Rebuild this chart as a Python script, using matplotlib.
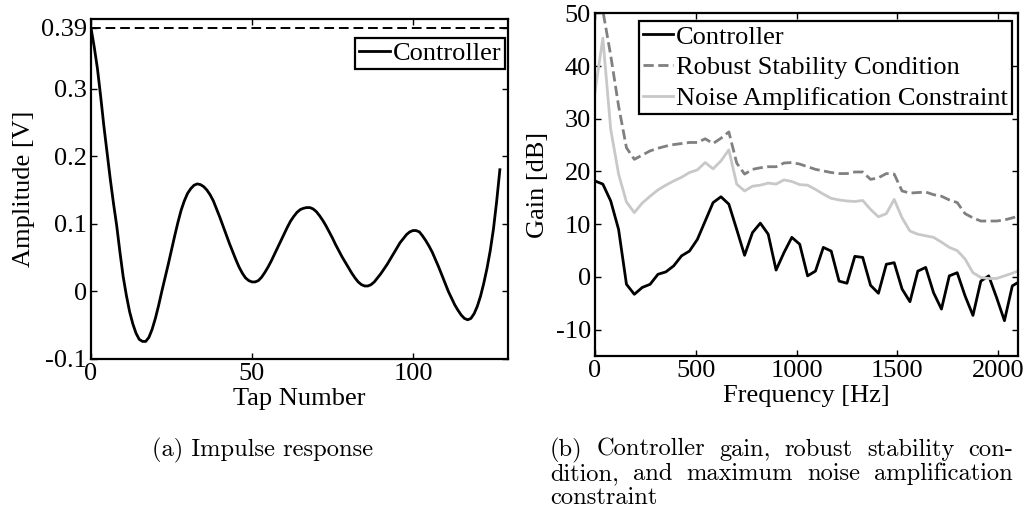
import numpy as np
import matplotlib

matplotlib.use("Agg")
import matplotlib.pyplot as plt

SERIF = "Liberation Serif"
CAPTION_FONT = "cmr10"
FS = 19
CAP_FS = 17.6
DASH_GRAY = "#808080"
LIGHT_GRAY = "#c8c8c8"
W, H = 1029, 523

# impulse response of the 128-tap FIR controller
taps = np.arange(128)
amplitude = [
    0.390, 0.362, 0.330, 0.289, 0.245, 0.205, 0.166, 0.130, 0.097, 0.058,
    0.022, -0.006, -0.030, -0.048, -0.062, -0.071, -0.074, -0.074, -0.068, -0.056,
    -0.040, -0.021, 0.000, 0.020, 0.040, 0.061, 0.082, 0.102, 0.120, 0.134,
    0.145, 0.152, 0.157, 0.159, 0.158, 0.155, 0.150, 0.143, 0.134, 0.122,
    0.110, 0.097, 0.084, 0.071, 0.059, 0.047, 0.036, 0.027, 0.020, 0.016,
    0.014, 0.014, 0.016, 0.021, 0.028, 0.036, 0.045, 0.055, 0.065, 0.075,
    0.085, 0.095, 0.104, 0.111, 0.117, 0.121, 0.123, 0.124, 0.124, 0.122,
    0.118, 0.112, 0.105, 0.097, 0.088, 0.079, 0.069, 0.060, 0.051, 0.043,
    0.035, 0.027, 0.020, 0.014, 0.010, 0.008, 0.008, 0.010, 0.014, 0.020,
    0.026, 0.033, 0.040, 0.048, 0.056, 0.064, 0.072, 0.078, 0.084, 0.088,
    0.090, 0.090, 0.088, 0.082, 0.075, 0.067, 0.058, 0.047, 0.036, 0.024,
    0.012, 0.000, -0.010, -0.020, -0.028, -0.035, -0.040, -0.042, -0.040, -0.033,
    -0.022, -0.007, 0.012, 0.034, 0.060, 0.092, 0.133, 0.180,
]
amp_limit = 0.39

# frequency-domain curves on the 39.0625 Hz FFT grid
freq_step = 39.0625
controller_db = [
    18.2, 17.6, 14.4, 9.0, -1.4, -3.3, -2.0, -1.4, 0.5, 0.95,
    2.1, 4.0, 4.9, 7.1, 10.6, 14.1, 15.2, 13.8, 9.0, 4.1,
    8.4, 10.2, 8.1, 1.3, 4.6, 7.5, 6.2, 0.2, 1.1, 5.6,
    4.9, -0.8, -1.2, 3.9, 3.7, -1.6, -3.1, 2.4, 2.7, -2.3,
    -4.7, 1.1, 1.8, -3.0, -6.1, 0.2, 0.8, -3.6, -7.3, -0.8,
    0.2, -3.9, -8.3, -1.7, -0.8,
]
robust_db = [
    56.0, 50.5, 42.0, 32.4, 24.5, 22.3, 23.1, 23.9, 24.4, 24.8,
    25.1, 25.3, 25.5, 25.5, 26.2, 25.3, 26.3, 27.5, 21.6, 19.5,
    20.4, 20.7, 20.9, 20.9, 21.6, 21.7, 21.4, 20.9, 20.4, 20.1,
    19.8, 19.6, 19.6, 19.9, 19.9, 18.5, 18.8, 19.6, 19.5, 16.3,
    15.9, 16.0, 16.1, 15.6, 15.3, 14.6, 14.1, 12.0, 11.2, 10.6,
    10.6, 10.6, 10.8, 11.2, 11.6,
]
noise_db = [
    35.0, 45.3, 28.0, 19.5, 14.2, 12.2, 14.0, 15.3, 16.5, 17.4,
    18.2, 18.9, 19.8, 20.3, 21.7, 20.5, 22.0, 24.1, 17.6, 16.3,
    17.2, 17.4, 17.8, 17.6, 18.4, 18.1, 17.5, 17.4, 16.6, 15.7,
    14.9, 14.6, 14.4, 14.3, 14.5, 12.8, 11.4, 12.0, 14.7, 11.2,
    8.7, 8.1, 7.8, 7.5, 6.6, 5.6, 5.0, 3.4, 0.8, -0.1,
    -0.3, -0.3, 0.2, 0.7, 1.3,
]
freqs = np.arange(len(controller_db)) * freq_step

caption_a = "(a) Impulse response"
caption_b = [
    "(b) Controller gain, robust stability con-",
    "dition, and maximum noise amplification",
    "constraint",
]


def style_axes(ax):
    ax.tick_params(direction="in", length=4, width=1, top=True, right=True,
                   labelsize=FS, pad=3)
    for lab in ax.get_xticklabels() + ax.get_yticklabels():
        lab.set_fontfamily(SERIF)
    for spine in ax.spines.values():
        spine.set_linewidth(1.6)


def make_legend(ax, anchor):
    leg = ax.legend(loc="upper right", bbox_to_anchor=anchor, borderaxespad=0,
                    fancybox=False, framealpha=1, edgecolor="black",
                    prop={"family": SERIF, "size": FS}, handlelength=1.15,
                    handletextpad=0.1, borderpad=0.15, labelspacing=0.28)
    leg.get_frame().set_linewidth(1.6)
    return leg


def justified_line(fig, text, x0, x1, y, **kw):
    """Place the words of one caption line so they span x0..x1 (pixels)."""
    renderer = fig.canvas.get_renderer()
    words = text.split(" ")
    items = [fig.text(0, 1 - y / H, w, ha="left", **kw) for w in words]
    widths = [t.get_window_extent(renderer).width for t in items]
    gap = (x1 - x0 - sum(widths)) / max(len(words) - 1, 1)
    x = x0
    for t, wd in zip(items, widths):
        t.set_x(x / W)
        x += wd + gap


fig = plt.figure(figsize=(W / 100, H / 100), dpi=100)

# (a) impulse response
ax1 = fig.add_axes([0.0884, 0.3136, 0.4052, 0.6501])
ax1.plot(taps, amplitude, color="black", lw=2.0, label="Controller")
ax1.axhline(amp_limit, color="black", lw=1.4, ls=(0, (5, 2.5)))
ax1.set_xlim(0, 129.5)
ax1.set_ylim(-0.1, 0.403)
ax1.set_xticks([0, 50, 100])
ax1.set_xticklabels(["0", "50", "100"])
ax1.set_yticks([-0.1, 0, 0.1, 0.2, 0.3, 0.39])
ax1.set_yticklabels(["-0.1", "0", "0.1", "0.2", "0.3", "0.39"])
ax1.set_xlabel("Tap Number", fontfamily=SERIF, fontsize=FS, labelpad=2)
ax1.set_ylabel("Amplitude [V]", fontfamily=SERIF, fontsize=FS, labelpad=4)
style_axes(ax1)
make_legend(ax1, (0.993, 0.944))

# (b) gains
ax2 = fig.add_axes([0.5782, 0.3193, 0.4114, 0.6553])
ax2.plot(freqs, controller_db, color="black", lw=2.0, label="Controller")
ax2.plot(freqs, robust_db, color=DASH_GRAY, lw=2.0, ls="--",
         label="Robust Stability Condition")
ax2.plot(freqs, noise_db, color=LIGHT_GRAY, lw=2.0,
         label="Noise Amplification Constraint")
ax2.set_xlim(0, 2100)
ax2.set_ylim(-15, 50)
ax2.set_xticks([0, 500, 1000, 1500, 2000])
ax2.set_xticklabels(["0", "500", "1000", "1500", "2000"])
ax2.set_yticks([-10, 0, 10, 20, 30, 40, 50])
ax2.set_yticklabels(["-10", "0", "10", "20", "30", "40", "50"])
ax2.set_xlabel("Frequency [Hz]", fontfamily=SERIF, fontsize=FS, labelpad=2)
ax2.set_ylabel("Gain [dB]", fontfamily=SERIF, fontsize=FS, labelpad=5)
style_axes(ax2)
make_legend(ax2, (0.985, 0.977))

# sub-figure captions
cap = dict(fontfamily=CAPTION_FONT, fontsize=CAP_FS, va="baseline")
fig.text(152 / W, 1 - 456 / H, caption_a, ha="left", **cap)
for i, line in enumerate(caption_b):
    y = 456 + 24 * i
    if i < len(caption_b) - 1:
        justified_line(fig, line, 550, 1013, y, **cap)
    else:
        fig.text(550 / W, 1 - y / H, line, ha="left", **cap)

fig.savefig("out.png", dpi=100)
